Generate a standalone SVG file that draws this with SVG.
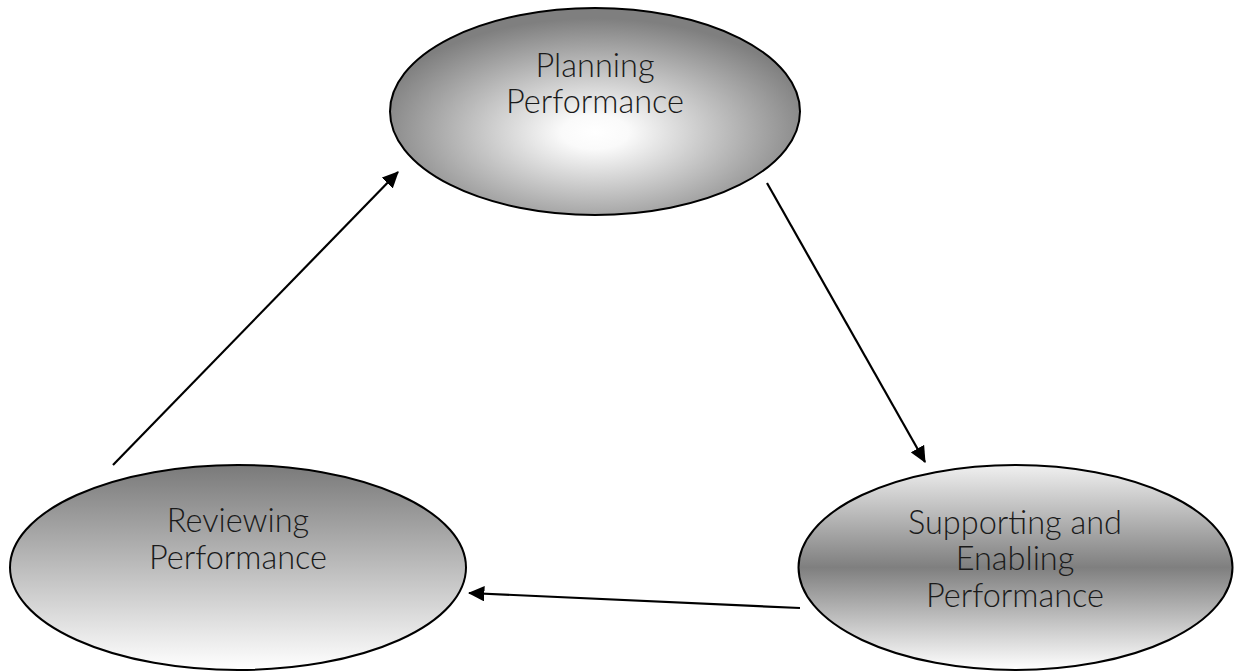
<svg xmlns="http://www.w3.org/2000/svg" width="1239" height="671" viewBox="0 0 1239 671">
<style>
.node{stroke:#000;stroke-width:2}
.lbl{font-family:Lato,"Open Sans","Liberation Sans",sans-serif;font-weight:300;font-size:32.5px;fill:#1a1a1a;text-anchor:middle}
.edge{stroke:#000;stroke-width:2.2;fill:none;marker-end:url(#ah)}
</style>
<defs>
<radialGradient id="gTop" cx="0.5" cy="0.6" r="0.55">
<stop offset="0" stop-color="#ffffff"/>
<stop offset="0.15" stop-color="#fafafa"/>
<stop offset="1" stop-color="#7f7f7f"/>
</radialGradient>
<linearGradient id="gLeft" x1="0" y1="0" x2="0" y2="1">
<stop offset="0" stop-color="#7a7a7a"/>
<stop offset="1" stop-color="#ffffff"/>
</linearGradient>
<linearGradient id="gRight" x1="0" y1="0" x2="0" y2="1">
<stop offset="0" stop-color="#f0f0f0"/>
<stop offset="0.5" stop-color="#7f7f7f"/>
<stop offset="1" stop-color="#ffffff"/>
</linearGradient>
<marker id="ah" markerWidth="7.5" markerHeight="7" refX="7" refY="3.5" orient="auto" markerUnits="strokeWidth">
<path d="M0,0 L7.5,3.5 L0,7 Z" fill="#000"/>
</marker>
</defs>
<g id="connectors">
<line class="edge" x1="767" y1="183" x2="925" y2="462"/>
<line class="edge" x1="800" y1="608" x2="469" y2="593"/>
<line class="edge" x1="113" y1="465" x2="398" y2="172"/>
</g>
<g id="planning">
<ellipse class="node" cx="595" cy="111.5" rx="205" ry="103.5" fill="url(#gTop)"/>
<text class="lbl" x="595" y="77">Planning</text>
<text class="lbl" x="595" y="113">Performance</text>
</g>
<g id="reviewing">
<ellipse class="node" cx="238" cy="567.5" rx="228" ry="102.5" fill="url(#gLeft)"/>
<text class="lbl" x="238" y="532">Reviewing</text>
<text class="lbl" x="238" y="569">Performance</text>
</g>
<g id="supporting">
<ellipse class="node" cx="1015.5" cy="567.5" rx="217" ry="102.5" fill="url(#gRight)"/>
<text class="lbl" x="1015" y="534">Supporting and</text>
<text class="lbl" x="1015" y="570">Enabling</text>
<text class="lbl" x="1015" y="607">Performance</text>
</g>
</svg>
